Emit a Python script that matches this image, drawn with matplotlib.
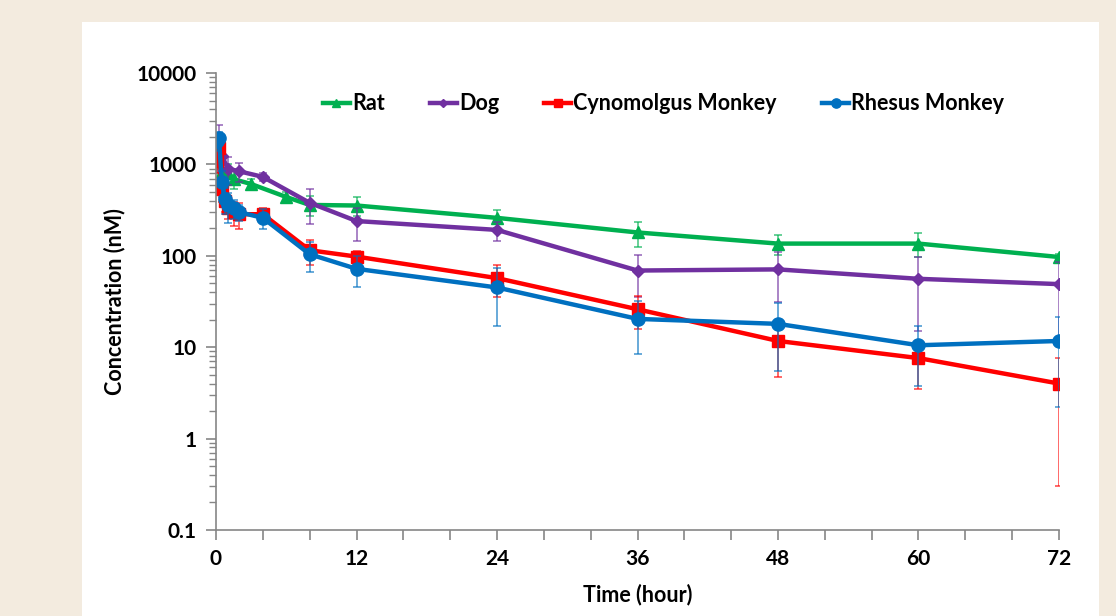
import matplotlib
matplotlib.use('Agg')
import matplotlib.pyplot as plt
from matplotlib.patches import Rectangle
from matplotlib.ticker import FixedLocator, LogLocator, NullFormatter

plt.rcParams['font.family'] = ['Lato', 'DejaVu Sans']
plt.rcParams['font.weight'] = 'bold'

# ---- data ----
rat_t = [0.083, 0.25, 0.5, 1, 1.5, 3, 6, 8, 12, 24, 36, 48, 60, 72]
rat_v = [1500, 1300, 850, 800, 690, 610, 440, 360, 355, 260, 180, 136, 136, 97]
rat_e = [500, 400, 250, 200, 150, 80, 60, 90, 80, 60, 55, 35, 40, 8]

dog_t = [0.083, 0.25, 0.5, 1, 2, 4, 8, 12, 24, 36, 48, 60, 72]
dog_v = [1400, 1900, 1250, 900, 840, 730, 380, 240, 192, 69, 71, 56, 49]
dog_e = [600, 800, 400, 300, 200, 80, 155, 95, 45, 34, 40, 41, 36]

cyno_t = [0.083, 0.25, 0.5, 0.75, 1, 1.5, 2, 4, 8, 12, 24, 36, 48, 60, 72]
cyno_v = [1100, 1500, 540, 400, 330, 300, 285, 285, 115, 98, 57, 26, 11.7, 7.6, 4.0]
cyno_e = [300, 400, 150, 100, 80, 90, 90, 50, 35, 15, 22, 10, 7, 4.1, 3.7]

rhe_t = [0.083, 0.25, 0.5, 0.75, 1, 1.5, 2, 4, 8, 12, 24, 36, 48, 60, 72]
rhe_v = [1800, 1950, 640, 420, 360, 330, 300, 260, 104, 72, 45, 20.4, 18, 10.5, 11.7]
rhe_e = [400, 300, 200, 130, 130, 80, 60, 66, 38, 27, 28, 12, 12.5, 6.7, 9.5]

series_names = ['Rat', 'Dog', 'Cynomolgus Monkey', 'Rhesus Monkey']
x_ticks = [0, 12, 24, 36, 48, 60, 72]
y_ticks = [0.1, 1, 10, 100, 1000, 10000]
y_labels = ['0.1', '1', '10', '100', '1000', '10000']

W, H = 1116, 616
fig = plt.figure(figsize=(W / 100, H / 100), dpi=100)
fig.patch.set_facecolor('#F3EBDF')
fig.add_artist(Rectangle((82 / W, 0), (1099 - 82) / W, (616 - 22) / H,
                         transform=fig.transFigure, facecolor='white',
                         edgecolor='none', zorder=0))

ax = fig.add_axes([216 / W, 1 - 530 / H, (1059 - 216) / W, (530 - 73) / H])
ax.set_zorder(1)
ax.set_facecolor('none')

styles = [
    (rat_t, rat_v, rat_e, '#00B050', '^', 9),
    (dog_t, dog_v, dog_e, '#7030A0', 'D', 6.5),
    (cyno_t, cyno_v, cyno_e, '#FF0000', 's', 8.5),
    (rhe_t, rhe_v, rhe_e, '#0070C0', 'o', 9.5),
]

for (t, v, e, c, m, ms), name in zip(styles, series_names):
    lo = [min(ei, vi * 0.98) for vi, ei in zip(v, e)]
    ax.errorbar(t, v, yerr=[lo, e], fmt='none', ecolor=c, elinewidth=1.1,
                capsize=3, capthick=1.1, alpha=0.75)
    ax.plot(t, v, color=c, lw=3.2, marker=m, markersize=ms, label=name,
            markeredgecolor=c)

ax.set_yscale('log')
ax.set_ylim(0.1, 10000)
ax.set_xlim(0, 72)
ax.yaxis.set_major_locator(FixedLocator(y_ticks))
ax.set_yticklabels(y_labels)
ax.yaxis.set_minor_locator(LogLocator(base=10, subs=range(2, 10)))
ax.yaxis.set_minor_formatter(NullFormatter())
ax.xaxis.set_major_locator(FixedLocator(x_ticks))
ax.xaxis.set_minor_locator(FixedLocator([t for t in range(0, 73, 4) if t % 12]))

for s in ['top', 'right']:
    ax.spines[s].set_visible(False)
for s in ['left', 'bottom']:
    ax.spines[s].set_color('#868686')
    ax.spines[s].set_linewidth(1.2)

ax.tick_params(axis='both', which='major', length=7, color='#868686',
               width=1.2, labelsize=15, pad=7)
ax.tick_params(axis='y', which='minor', length=5, color='#868686', width=1)
ax.tick_params(axis='x', which='minor', length=7, color='#868686', width=1.2)
for lab in ax.get_xticklabels() + ax.get_yticklabels():
    lab.set_fontweight('bold')

ax.set_xlabel('Time (hour)', fontsize=15.5, fontweight='bold', labelpad=10)
ax.set_ylabel('Concentration (nM)', fontsize=15.5, fontweight='bold', labelpad=8)

leg = ax.legend(loc='center', bbox_to_anchor=(0.531, 0.933), ncol=4,
                frameon=False, fontsize=15.5, handlelength=1.25,
                handletextpad=0.1, columnspacing=2.1, markerscale=0.7)
for txt in leg.get_texts():
    txt.set_fontweight('bold')

fig.savefig('out.png', dpi=100, facecolor=fig.get_facecolor())
